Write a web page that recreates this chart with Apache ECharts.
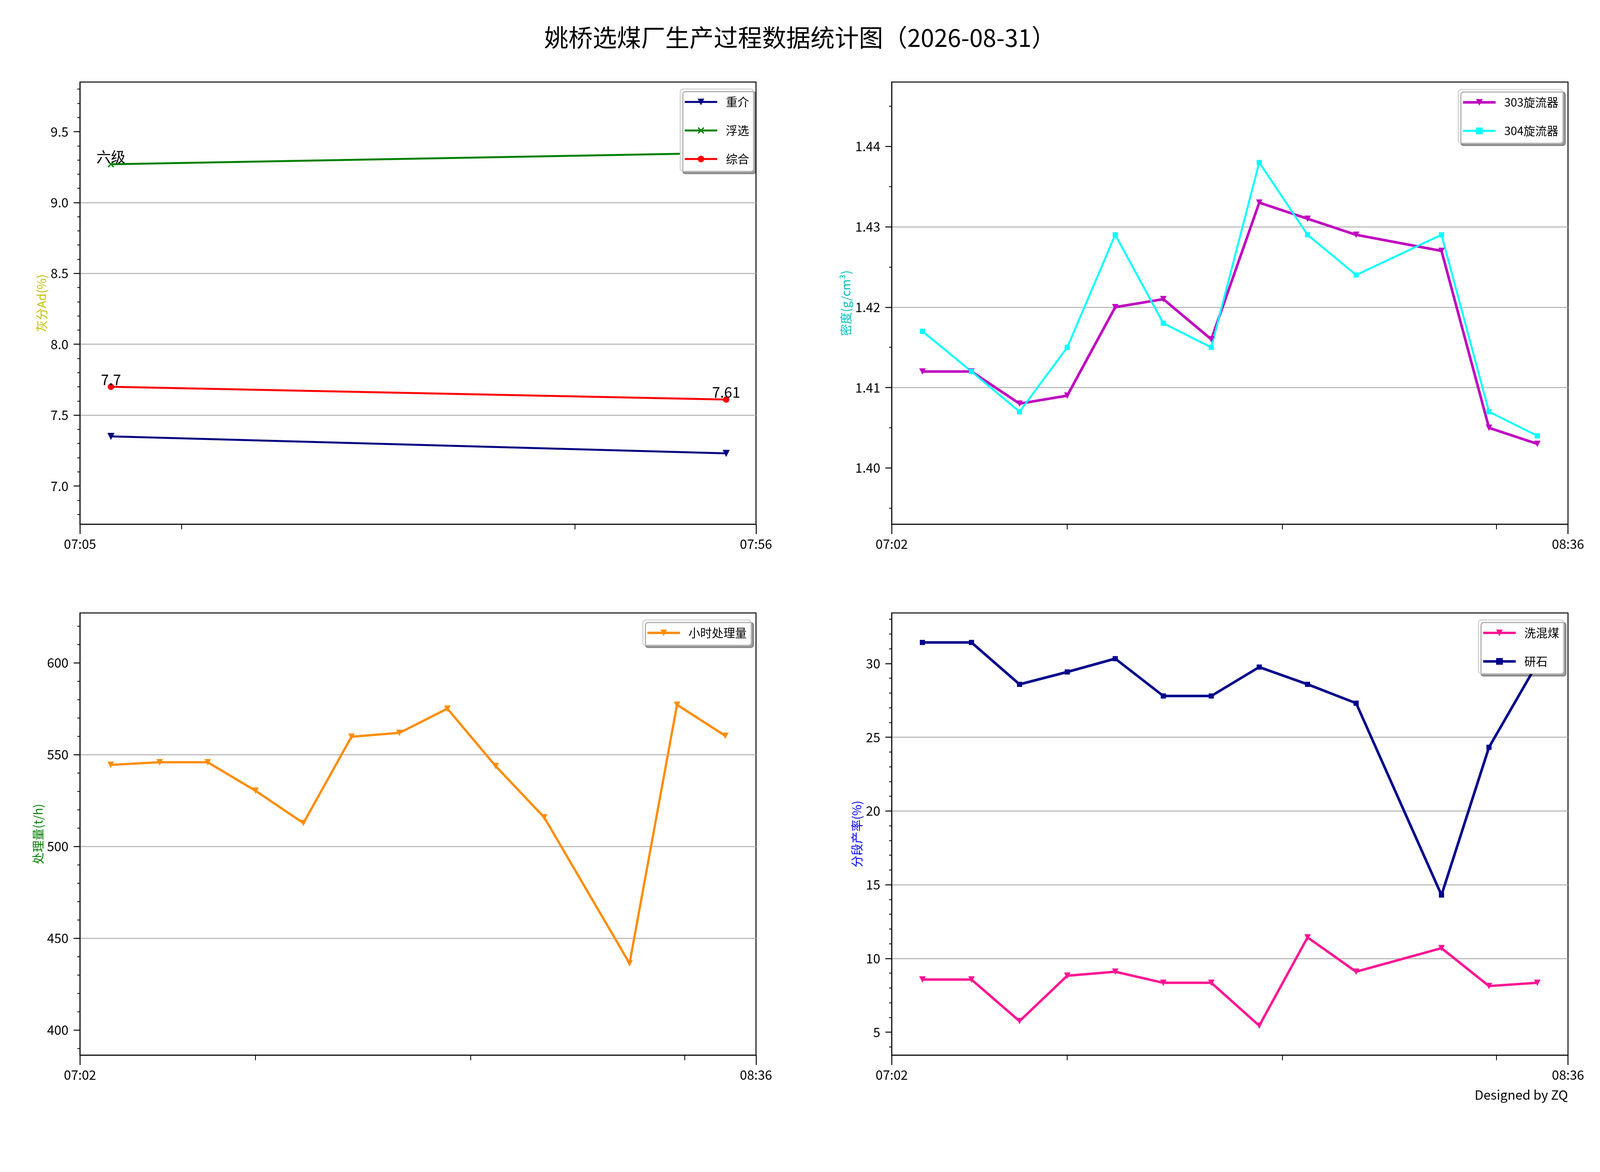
<!DOCTYPE html>
<html>
<head>
<meta charset="utf-8">
<title>姚桥选煤厂生产过程数据统计图</title>
<script src="https://cdn.jsdelivr.net/npm/echarts@6.0.0/dist/echarts.min.js"></script>
<style>
html, body { margin: 0; padding: 0; background: #fff; overflow: hidden; }
#main { width: 100vw; height: 100vh; }
</style>
</head>
<body>
<div id="main"></div>
<script>
var FONT = '"Noto Sans CJK SC", "Noto Sans", sans-serif';
var chartTitle = '姚桥选煤厂生产过程数据统计图（2026-08-31）';
var signature = 'Designed by ZQ';

// 灰分
var ashTimes = ['07:07:20', '07:53:45'];
var ashZhongjie = [7.35, 7.23];
var ashFuxuan = [9.27, 9.35];
var ashZonghe = [7.70, 7.61];
var ashNote = '六级';
var ashTicks = [7.0, 7.5, 8.0, 8.5, 9.0, 9.5];
var ashRange = [6.73, 9.85];
var ashTimeRange = ['07:05', '07:56'];
var ashMinorTimes = ['07:12:40', '07:42:20'];

// 生产时刻(密度 / 处理量 / 产率共用)
var prodTimes = ['07:06:16', '07:13:05', '07:19:46', '07:26:24', '07:33:04', '07:39:45', '07:46:25',
                 '07:53:05', '07:59:48', '08:06:33', '08:18:25', '08:25:01', '08:31:44'];
var prodTimeRange = ['07:02', '08:36'];
var prodMinorTimes = ['07:26:24', '07:56:18', '08:26:04'];

// 密度
var density303 = [1.412, 1.412, 1.408, 1.409, 1.420, 1.421, 1.416, 1.433, 1.431, 1.429, 1.427, 1.405, 1.403];
var density304 = [1.417, 1.412, 1.407, 1.415, 1.429, 1.418, 1.415, 1.438, 1.429, 1.424, 1.429, 1.407, 1.404];
var densityTicks = [1.40, 1.41, 1.42, 1.43, 1.44];
var densityRange = [1.393, 1.448];

// 小时处理量
var hourlyLoad = [544.4, 545.8, 545.8, 530.3, 512.7, 559.7, 561.8, 575.0, 543.7, 515.8, 436.3, 577.1, 560.2];
var hourlyTicks = [400, 450, 500, 550, 600];
var hourlyRange = [386.3, 627.1];

// 分段产率
var yieldXihunmei = [8.57, 8.57, 5.75, 8.83, 9.10, 8.35, 8.35, 5.44, 11.43, 9.10, 10.70, 8.13, 8.35];
var yieldGanshi = [31.43, 31.43, 28.59, 29.43, 30.33, 27.80, 27.80, 29.76, 28.59, 27.31, 14.30, 24.32, 30.00];
var yieldTicks = [5, 10, 15, 20, 25, 30];
var yieldRange = [3.44, 33.43];

var SYM_X = 'path://M0,1.4L1.4,0L5,3.6L8.6,0L10,1.4L6.4,5L10,8.6L8.6,10L5,6.4L1.4,10L0,8.6L3.6,5Z';

// 设计尺寸 6000x3000, 按窗口铺满
var dom = document.getElementById('main');
var vw = dom.clientWidth || window.innerWidth || 6000;
var vh = dom.clientHeight || window.innerHeight || 3000;
var kx = vw / 6000, ky = vh / 3000, kf = Math.sqrt(kx * ky);
function X(v) { return v * kx; }
function Y(v) { return v * ky; }
function F(v) { return v * kf; }

var measureCtx = document.createElement('canvas').getContext('2d');
function textW(str, size) {
    measureCtx.font = size + 'px ' + FONT;
    return measureCtx.measureText(str).width;
}

function pad(n) { return (n < 10 ? '0' : '') + n; }
function toMin(t) {
    var p = t.split(':');
    return (+p[0]) * 60 + (+p[1]) + (p[2] ? (+p[2]) / 60 : 0);
}
function fmtMin(v) {
    var h = Math.floor(v / 60 + 1e-6);
    var m = Math.round(v - h * 60);
    return pad(h) + ':' + pad(m);
}
function pairs(times, vals) {
    return times.map(function (t, i) { return [toMin(t), vals[i]]; });
}

var grids = [
    [300, 210, 2535, 1132],
    [3344, 210, 2536, 1132],
    [300, 1569, 2535, 1132],
    [3344, 1569, 2536, 1132]
].map(function (g) {
    return {
        left: X(g[0]), top: Y(g[1]), width: X(g[2]), height: Y(g[3]),
        show: true, borderColor: '#000', borderWidth: F(3),
        containLabel: false, outerBoundsMode: 'none'
    };
});

function mainX(gi, range) {
    var mn = toMin(range[0]), mx = toMin(range[1]);
    return {
        type: 'value', gridIndex: gi, min: mn, max: mx,
        splitLine: {show: false},
        axisLine: {onZero: false, lineStyle: {color: '#000', width: F(3)}},
        axisTick: {length: Y(25), customValues: [mn, mx], lineStyle: {color: '#000', width: F(3)}},
        axisLabel: {customValues: [mn, mx], formatter: fmtMin, fontSize: F(40), color: '#000',
            fontFamily: FONT, margin: Y(40) - F(7)}
    };
}
function minorX(gi, range, minors) {
    return {
        type: 'value', gridIndex: gi, min: toMin(range[0]), max: toMin(range[1]), position: 'bottom',
        splitLine: {show: false},
        axisLine: {show: false, onZero: false},
        axisLabel: {show: false},
        axisTick: {length: Y(13), customValues: minors.map(toMin), lineStyle: {color: '#000', width: F(2.5)}}
    };
}
// nameDist: 参考图中轴线到轴名中心的距离
function valY(gi, range, ticks, dec, minorSplit, name, nameColor, nameDist) {
    var step = Math.round((ticks[1] - ticks[0]) * 1e6) / 1e6;
    var margin = X(43);
    var labW = 0;
    ticks.forEach(function (t) { labW = Math.max(labW, textW(t.toFixed(dec), F(40))); });
    var gap = Math.max(X(nameDist) - F(18.5), margin + labW + F(10));
    return {
        type: 'value', gridIndex: gi, min: range[0], max: range[1],
        minInterval: step, maxInterval: step, splitNumber: ticks.length,
        name: name, nameLocation: 'middle', nameGap: gap,
        nameTextStyle: {color: nameColor, fontSize: F(37), fontFamily: FONT},
        axisLine: {show: true, lineStyle: {color: '#000', width: F(3)}},
        axisTick: {show: true, length: X(24), customValues: ticks, lineStyle: {color: '#000', width: F(3)}},
        minorTick: {show: true, splitNumber: minorSplit, length: X(10), lineStyle: {color: '#000', width: F(2.5)}},
        axisLabel: {customValues: ticks, fontSize: F(40), color: '#000', fontFamily: FONT, margin: margin,
            formatter: function (v) { return (+v).toFixed(dec); }},
        splitLine: {show: true, showMinLine: false, showMaxLine: false,
            lineStyle: {color: '#b0b0b0', width: F(3)}}
    };
}

function line(name, gi, data, color, symbol, size, width, rotate) {
    return {
        name: name, type: 'line', xAxisIndex: gi * 2, yAxisIndex: gi,
        data: data, color: color, symbol: symbol, symbolSize: F(size), symbolRotate: rotate || 0,
        showAllSymbol: true,
        lineStyle: {color: color, width: F(width)},
        itemStyle: {color: color},
        emphasis: {disabled: true},
        z: 3
    };
}

var labelStyle = {show: true, position: 'top', distance: F(-10), fontSize: F(45), color: '#000', fontFamily: FONT};

var fuxuanData = pairs(ashTimes, ashFuxuan);
fuxuanData[0] = {value: fuxuanData[0], label: Object.assign({formatter: ashNote}, labelStyle)};

var zonghe = line('综合', 0, pairs(ashTimes, ashZonghe), '#ff0000', 'circle', 20, 6);
zonghe.label = labelStyle;

function legendAt(names, right, top) {
    var lh = F(44);
    return {
        data: names, orient: 'vertical', align: 'left', right: X(right), top: Y(top),
        itemWidth: X(122), itemHeight: F(26), itemGap: Math.max(Y(73) - lh, 2),
        padding: [Math.max(Y(33) - lh / 2, 4), X(16), Math.max(Y(31) - lh / 2, 4), X(13)],
        backgroundColor: '#fff', borderColor: '#cccccc', borderWidth: F(3), borderRadius: F(8),
        shadowColor: 'rgba(0,0,0,0.38)', shadowOffsetX: F(8), shadowOffsetY: F(8), shadowBlur: 1,
        selectedMode: false,
        lineStyle: {width: 'inherit'},
        textStyle: {fontSize: F(36), color: '#000', fontFamily: FONT, lineHeight: lh,
            padding: [0, 0, 0, X(25)]}
    };
}

var option = {
    animation: false,
    backgroundColor: '#fff',
    title: {
        text: chartTitle, left: 'center', top: Y(96) - F(75) / 2, padding: 0,
        textStyle: {fontSize: F(75), fontWeight: 'normal', color: '#000', fontFamily: FONT}
    },
    grid: grids,
    xAxis: [
        mainX(0, ashTimeRange), minorX(0, ashTimeRange, ashMinorTimes),
        mainX(1, prodTimeRange), minorX(1, prodTimeRange, prodMinorTimes),
        mainX(2, prodTimeRange), minorX(2, prodTimeRange, prodMinorTimes),
        mainX(3, prodTimeRange), minorX(3, prodTimeRange, prodMinorTimes)
    ],
    yAxis: [
        valY(0, ashRange, ashTicks, 1, 5, '灰分Ad(%)', '#bfbf00', 138),
        valY(1, densityRange, densityTicks, 2, 2, '密度(g/cm³)', '#00bfbf', 158),
        valY(2, hourlyRange, hourlyTicks, 0, 5, '处理量(t/h)', '#008000', 130),
        valY(3, yieldRange, yieldTicks, 0, 5, '分段产率(%)', '#0000ff', 108)
    ],
    legend: [
        legendAt(['重介', '浮选', '综合'], 3175, 228),
        legendAt(['303旋流器', '304旋流器'], 140, 229),
        legendAt(['小时处理量'], 3184, 1587),
        legendAt(['洗混煤', '研石'], 137, 1587)
    ],
    graphic: [{
        type: 'text', right: X(120), top: Y(2802) - F(40) / 2,
        style: {text: signature, fontSize: F(40), fill: '#000', fontFamily: FONT}
    }],
    series: [
        line('重介', 0, pairs(ashTimes, ashZhongjie), '#000080', 'triangle', 22, 6, 180),
        line('浮选', 0, fuxuanData, '#008000', SYM_X, 20, 6),
        zonghe,
        line('303旋流器', 1, pairs(prodTimes, density303), '#bf00bf', 'triangle', 20, 8, 180),
        line('304旋流器', 1, pairs(prodTimes, density304), '#00ffff', 'rect', 16, 6),
        line('小时处理量', 2, pairs(prodTimes, hourlyLoad), '#ff8c00', 'triangle', 20, 7, 180),
        line('洗混煤', 3, pairs(prodTimes, yieldXihunmei), '#ff1493', 'triangle', 20, 7.5, 180),
        line('研石', 3, pairs(prodTimes, yieldGanshi), '#00008b', 'rect', 16, 8)
    ]
};

var myChart = echarts.init(dom);
myChart.setOption(option);
</script>
</body>
</html>
